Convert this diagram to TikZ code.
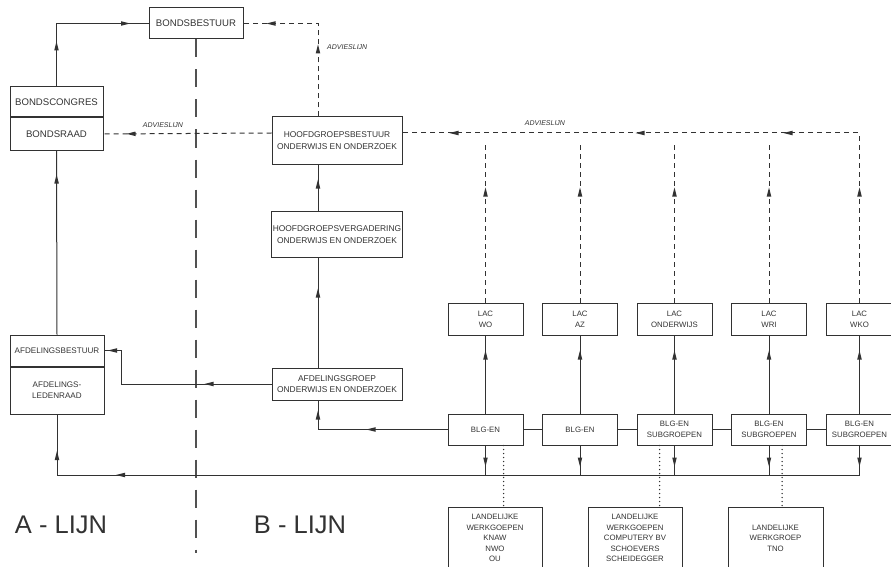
\documentclass[tikz,border=0pt]{standalone}
\usepackage{fontspec}
\setmainfont{Liberation Sans}
\usepackage{xcolor}
\definecolor{inkt}{RGB}{50, 50, 50}
\usetikzlibrary{positioning, decorations.markings}

\tikzset{
	blok/.style={draw=inkt, line width=1pt, align=center, inner sep=1pt, text=inkt,
		font=\fontsize{7.8}{11}\selectfont},
	groot/.style={font=\fontsize{9.6}{11}\selectfont},
	hoofd/.style={font=\fontsize{8.4}{11.5}\selectfont},
	lwblok/.style={blok, minimum width=94pt, minimum height=62pt, font=\fontsize{7.8}{10.5}\selectfont},
	lijn/.style={draw=inkt, line width=1pt},
	advies/.style={lijn, dash pattern=on 5pt off 4pt},
	stippel/.style={draw=inkt, line width=1.5pt, line cap=round, dash pattern=on 0pt off 4pt},
	scheiding/.style={draw=inkt!85, line width=1.3pt, dash pattern=on 18pt off 12pt},
	pijl/.style={postaction={decorate, decoration={markings,
		mark=at position #1 with {\fill[inkt] (0pt,0pt) -- (-9pt,2.3pt) -- (-9pt,-2.3pt) -- cycle;}}}},
	advtekst/.style={text=inkt, inner sep=0pt, font=\fontsize{7}{7}\selectfont\itshape},
	lijntekst/.style={text=inkt, inner sep=0pt, font=\fontsize{25.5}{26}\selectfont}
}

\begin{document}
\begin{tikzpicture}[x=1pt, y=-1pt]
	\useasboundingbox (0,0) rectangle (891,567);
	
	% A-lijn
	\node [blok, groot, minimum width=94pt, minimum height=31pt] (bondsbestuur) at (196,23.5) {BONDSBESTUUR};
	\node [blok, groot, minimum width=93pt, minimum height=30pt] (bondscongres) at (56.5,102) {BONDSCONGRES};
	\node [blok, groot, minimum width=93pt, minimum height=32pt, below=0pt of bondscongres] (bondsraad) {BONDSRAAD};
	\node [blok, minimum width=94pt, minimum height=31pt, font=\fontsize{8.1}{11}\selectfont] (afdbestuur) at (57,350.5) {AFDELINGSBESTUUR};
	\node [blok, minimum width=94pt, minimum height=47pt, font=\fontsize{8.1}{11}\selectfont, below=0pt of afdbestuur] (ledenraad) {AFDELINGS-\\LEDENRAAD};
	
	% B-lijn
	\node [blok, hoofd, minimum width=130pt, minimum height=47pt] (hgbestuur) at (337,140.5) {HOOFDGROEPSBESTUUR\\ONDERWIJS EN ONDERZOEK};
	\node [blok, hoofd, minimum width=130pt, minimum height=46pt, below=46.5pt of hgbestuur] (hgvergadering) {HOOFDGROEPSVERGADERING\\ONDERWIJS EN ONDERZOEK};
	\node [blok, hoofd, minimum width=130pt, minimum height=32pt, below=109.5pt of hgvergadering] (afdgroep) {AFDELINGSGROEP\\ONDERWIJS EN ONDERZOEK};
	
	\node [blok, minimum width=75pt, minimum height=32pt] (lacwo) at (485.5,319) {LAC\\WO};
	\node [blok, minimum width=75pt, minimum height=32pt, right=18.5pt of lacwo] (lacaz) {LAC\\AZ};
	\node [blok, minimum width=75pt, minimum height=32pt, right=18.5pt of lacaz] (laconderwijs) {LAC\\ONDERWIJS};
	\node [blok, minimum width=75pt, minimum height=32pt, right=18.5pt of laconderwijs] (lacwri) {LAC\\WRI};
	\node [blok, minimum width=67pt, minimum height=32pt, right=18.5pt of lacwri] (lacwko) {LAC\\WKO};
	
	\node [blok, minimum width=75pt, minimum height=31pt, below=78pt of lacwo] (blgwo) {BLG-EN};
	\node [blok, minimum width=75pt, minimum height=31pt, below=78pt of lacaz] (blgaz) {BLG-EN};
	\node [blok, minimum width=75pt, minimum height=31pt, below=78pt of laconderwijs] (blgonderwijs) {BLG-EN\\SUBGROEPEN};
	\node [blok, minimum width=75pt, minimum height=31pt, below=78pt of lacwri] (blgwri) {BLG-EN\\SUBGROEPEN};
	\node [blok, minimum width=67pt, minimum height=31pt, below=78pt of lacwko] (blgwko) {BLG-EN\\SUBGROEPEN};
	
	\node [lwblok] (lwknaw) at (495,538) {LANDELIJKE\\WERKGOEPEN\\KNAW\\NWO\\OU};
	\node [lwblok] (lwcomputery) at (635,538) {LANDELIJKE\\WERKGOEPEN\\COMPUTERY BV\\SCHOEVERS\\SCHEIDEGGER};
	\node [lwblok, minimum width=95pt] (lwtno) at (775.5,538) {LANDELIJKE\\WERKGROEP\\TNO};
	
	\node [advtekst] (advies1) at (163,125) {ADVIESLIJN};
	\node [advtekst, anchor=west] (advies2) at (327,47) {ADVIESLIJN};
	\node [advtekst] (advies3) at (545,123) {ADVIESLIJN};
	
	\node [lijntekst] (alijn) at (61,525) {A - LIJN};
	\node [lijntekst] (blijn) at (300,525) {B - LIJN};
	
	\coordinate (spine) at (318,0);
	\coordinate (advy) at (0,133);
	\coordinate (omhoog) at (0,141);
	\coordinate (busy) at (0,475);
	\coordinate (scheideind) at (196,553);
	
	% scheiding A / B
	\draw [scheiding] (bondsbestuur.south) -- (scheideind);
	
	% A-lijn verbindingen
	\draw [lijn, pijl=45pt, pijl=136.5pt] (bondscongres.north) |- (bondsbestuur.west);
	\draw [lijn, pijl=160pt] (afdbestuur.north) -- (bondsraad.south);
	
	% adviezen
	\draw [advies, pijl=145pt] (hgbestuur.west |- advy) -- (bondsraad.east);
	\draw [advies, pijl=72pt, pijl=144.5pt] (hgbestuur.north -| spine) |- (bondsbestuur.east);
	
	% B-lijn verbindingen
	\draw [lijn, pijl=31.5pt] (hgvergadering.north -| spine) -- (hgbestuur.south -| spine);
	\draw [lijn, pijl=79pt] (afdgroep.north -| spine) -- (hgvergadering.south -| spine);
	\draw [lijn, pijl=67pt, pijl=197pt] (afdgroep.west) -- ++(-150,0) |- (afdbestuur.east);
	\draw [lijn, pijl=81pt, pijl=148.5pt] (blgwo.west) -| (afdgroep.south -| spine);
	\draw [lijn] (blgwo) -- (blgaz) -- (blgonderwijs) -- (blgwri) -- (blgwko);
	
	\draw [lijn, pijl=63pt] (blgwo.north) -- (lacwo.south);
	\draw [lijn, pijl=63pt] (blgaz.north) -- (lacaz.south);
	\draw [lijn, pijl=63pt] (blgonderwijs.north) -- (laconderwijs.south);
	\draw [lijn, pijl=63pt] (blgwri.north) -- (lacwri.south);
	\draw [lijn, pijl=63pt] (blgwko.north) -- (lacwko.south);
	
	\draw [advies, pijl=115pt] (lacwo.north) -- (lacwo.north |- omhoog);
	\draw [advies, pijl=115pt] (lacaz.north) -- (lacaz.north |- omhoog);
	\draw [advies, pijl=115pt] (laconderwijs.north) -- (laconderwijs.north |- omhoog);
	\draw [advies, pijl=115pt] (lacwri.north) -- (lacwri.north |- omhoog);
	\draw [advies, pijl=115pt, pijl=245.5pt, pijl=393.5pt, pijl=579.5pt] (lacwko.north) |- (hgbestuur.east |- advy);
	
	\draw [lijn, pijl=21pt] (blgwo.south) -- (blgwo.south |- busy);
	\draw [lijn, pijl=21pt] (blgaz.south) -- (blgaz.south |- busy);
	\draw [lijn, pijl=21pt] (blgonderwijs.south) -- (blgonderwijs.south |- busy);
	\draw [lijn, pijl=21pt] (blgwri.south) -- (blgwri.south |- busy);
	\draw [lijn, pijl=21pt] (blgwko.south) -- (blgwko.south |- busy);
	\draw [lijn, pijl=743.5pt, pijl=826.5pt] (blgwko.south |- busy) -| (ledenraad.south);
	
	% landelijke werkgroepen
	\draw [stippel] ([xshift=18pt]blgwo.south) -- ([xshift=18pt]blgwo.south |- lwknaw.north);
	\draw [stippel] ([xshift=-15pt]blgonderwijs.south) -- ([xshift=-15pt]blgonderwijs.south |- lwcomputery.north);
	\draw [stippel] ([xshift=13pt]blgwri.south) -- ([xshift=13pt]blgwri.south |- lwtno.north);
\end{tikzpicture}
\end{document}
